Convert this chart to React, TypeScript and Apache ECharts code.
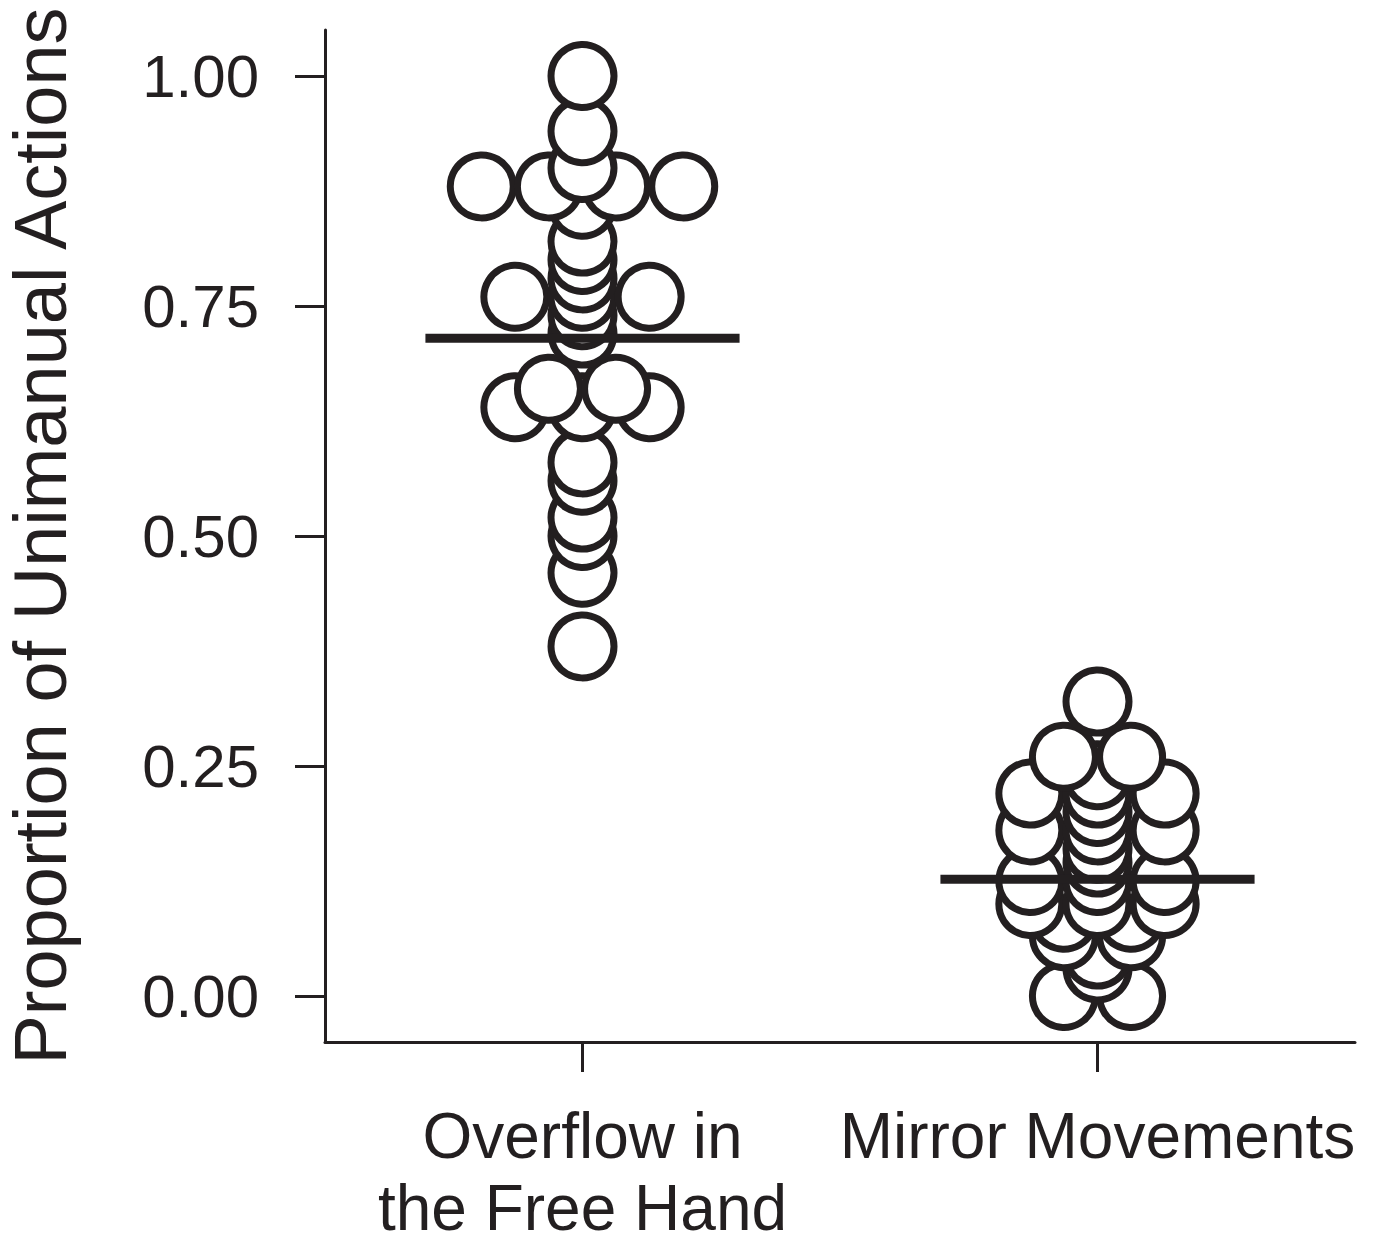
import React, { useEffect, useRef } from "react";
import * as echarts from "echarts";

// Categories (x positions 1 and 2 on a value axis)
const categories = ["Overflow in\nthe Free Hand", "Mirror Movements"];
const categoryPositions = [1, 2];

// Y tick values
const yTicks = [0, 0.25, 0.5, 0.75, 1.0];

// Overflow in the Free Hand: values and horizontal stack offsets (in dot widths)
const overflowValues = [
  0.38, 0.46, 0.5, 0.52, 0.56, 0.58, 0.64, 0.64, 0.64, 0.66, 0.66, 0.72, 0.74,
  0.76, 0.76, 0.76, 0.78, 0.8, 0.82, 0.86, 0.88, 0.88, 0.88, 0.88, 0.9, 0.94, 1.0,
];
const overflowOffsets = [
  0, 0, 0, 0, 0, 0, -1, 0, 1, -0.5, 0.5, 0, 0,
  -1, 0, 1, 0, 0, 0, 0, -1.5, -0.5, 0.5, 1.5, 0, 0, 0,
];

// Mirror Movements
const mirrorValues = [
  0.0, 0.0, 0.03, 0.045, 0.065, 0.065, 0.085, 0.085, 0.1, 0.1, 0.1, 0.125, 0.125,
  0.125, 0.145, 0.16, 0.18, 0.18, 0.18, 0.2, 0.22, 0.22, 0.22, 0.24, 0.26, 0.26, 0.32,
];
const mirrorOffsets = [
  -0.5, 0.5, 0, 0, -0.5, 0.5, -0.5, 0.5, -1, 0, 1, -1, 0,
  1, 0, 0, -1, 0, 1, 0, -1, 0, 1, 0, -0.5, 0.5, 0,
];

// Group means (horizontal bars)
const means = [0.715, 0.127];

const INK = "#231f20";
const FONT = "Liberation Sans, Arial, Helvetica, sans-serif";
const DOT_WIDTH = 0.1304; // one dot diameter in x-axis units
const MEAN_HALF = 0.305;

function buildPoints(cat: number, values: number[], offsets: number[]) {
  return values.map((v, i) => [cat + offsets[i] * DOT_WIDTH, v]);
}

export default function App() {
  const ref = useRef<HTMLDivElement>(null);

  useEffect(() => {
    if (!ref.current) return;
    const chart = echarts.init(ref.current, undefined, { renderer: "svg" });

    const dotStyle = {
      color: "#ffffff",
      borderColor: INK,
      borderWidth: 7,
      opacity: 1,
    };

    chart.setOption({
      animation: false,
      backgroundColor: "#ffffff",
      grid: {
        left: 325,
        right: 21,
        top: 30,
        bottom: 203,
        containLabel: false,
        outerBoundsMode: "none",
      },
      xAxis: {
        type: "value",
        min: 0.5,
        max: 2.5,
        splitLine: { show: false },
        axisLine: { show: true, onZero: false, lineStyle: { color: INK, width: 3 } },
        axisTick: {
          show: true,
          length: 30,
          inside: false,
          customValues: categoryPositions,
          lineStyle: { color: INK, width: 3 },
        },
        axisLabel: {
          show: true,
          customValues: categoryPositions,
          formatter: (v: number) => categories[Math.round(v) - 1] ?? "",
          fontFamily: FONT,
          fontSize: 64,
          lineHeight: 72,
          color: INK,
          margin: 58,
        },
      },
      yAxis: {
        type: "value",
        min: -0.05,
        max: 1.05,
        splitLine: { show: false },
        axisLine: { show: true, onZero: false, lineStyle: { color: INK, width: 3 } },
        axisTick: {
          show: true,
          length: 30,
          inside: false,
          customValues: yTicks,
          lineStyle: { color: INK, width: 3 },
        },
        axisLabel: {
          show: true,
          customValues: yTicks,
          formatter: (v: number) => v.toFixed(2),
          fontFamily: FONT,
          fontSize: 60,
          color: INK,
          margin: 66,
        },
        name: "Proportion of Unimanual Actions",
        nameLocation: "middle",
        nameGap: 255,
        nameTextStyle: { fontFamily: FONT, fontSize: 74, lineHeight: 60, color: INK },
      },
      series: [
        {
          type: "scatter",
          symbol: "circle",
          symbolSize: 63,
          clip: false,
          itemStyle: dotStyle,
          emphasis: { disabled: true },
          data: buildPoints(categoryPositions[0], overflowValues, overflowOffsets),
          z: 2,
        },
        {
          type: "scatter",
          symbol: "circle",
          symbolSize: 63,
          clip: false,
          itemStyle: dotStyle,
          emphasis: { disabled: true },
          data: buildPoints(categoryPositions[1], mirrorValues, mirrorOffsets),
          z: 2,
        },
        ...means.map((m, i) => ({
          type: "line",
          symbol: "none",
          z: 3,
          lineStyle: { color: INK, width: 9 },
          data: [
            [categoryPositions[i] - MEAN_HALF, m],
            [categoryPositions[i] + MEAN_HALF, m],
          ],
        })),
      ],
    });

    return () => chart.dispose();
  }, []);

  return (
    <div
      ref={ref}
      style={{ position: "absolute", left: 0, top: 0, width: 1376, height: 1245 }}
    />
  );
}
